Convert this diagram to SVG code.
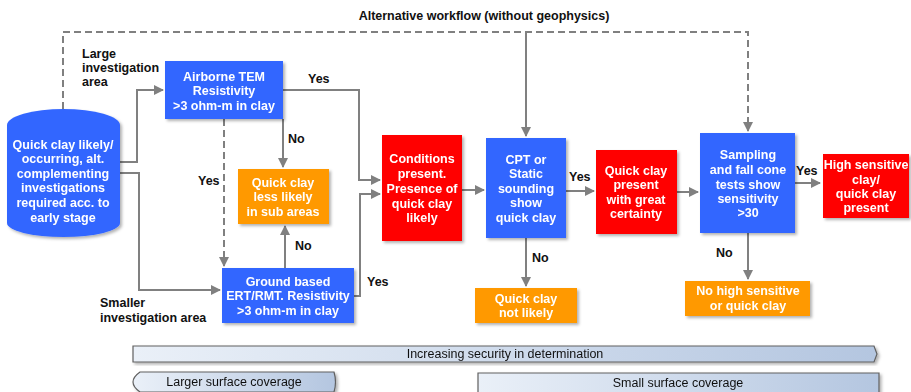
<svg xmlns="http://www.w3.org/2000/svg" width="911" height="392" viewBox="0 0 911 392">
<defs>
<style>
.t{font-family:"Liberation Sans",Arial,sans-serif;font-size:12.5px;font-weight:bold;text-anchor:middle;fill:#fff}
.l{font-family:"Liberation Sans",Arial,sans-serif;font-size:12.5px;font-weight:bold;fill:#111}
.b{font-family:"Liberation Sans",Arial,sans-serif;font-size:12.5px;fill:#111;text-anchor:middle}
.blue{fill:#3366ff}
.red{fill:#ff0000}
.org{fill:#ff9900}
.c{fill:none;stroke:#808080;stroke-width:2;marker-end:url(#ah)}
.d{fill:none;stroke:#808080;stroke-width:2;stroke-dasharray:7,4}
.bar{fill:url(#g);stroke:#606060;stroke-width:1.2}
</style>
<marker id="ah" viewBox="0 0 10 10" refX="9" refY="5" markerWidth="5" markerHeight="5" orient="auto" markerUnits="strokeWidth">
<path d="M0,0 L10,5 L0,10 z" fill="#808080"/>
</marker>
<linearGradient id="g" x1="0" y1="0" x2="1" y2="0">
<stop offset="0" stop-color="#eaf0f8"/>
<stop offset="1" stop-color="#b4c6e0"/>
</linearGradient>
<filter id="sh" x="-10%" y="-10%" width="130%" height="130%">
<feDropShadow dx="2" dy="2" stdDeviation="1.5" flood-color="#000" flood-opacity="0.3"/>
</filter>
</defs>
<rect width="911" height="392" fill="#fff"/>

<text class="l" x="484" y="20" text-anchor="middle">Alternative workflow (without geophysics)</text>
<text class="l" x="82" y="58">Large</text>
<text class="l" x="82" y="72">investigation</text>
<text class="l" x="82" y="86">area</text>
<text class="l" x="100" y="307">Smaller</text>
<text class="l" x="100" y="322">investigation area</text>

<g id="connectors">
<path class="d" d="M63,109 V32 H748 V124"/>
<path class="c" d="M526,32 V136"/>
<path class="c" d="M748,120 V131"/>
<path class="c" d="M120,162 H137 V90 H163"/>
<path class="c" d="M120,173 H139 V290 H220"/>
<path class="d" d="M224,119 V258"/>
<path class="c" d="M224,255 V266"/>
<path class="c" d="M283,119 V167"/>
<path class="c" d="M285,268 V226"/>
<path class="c" d="M283,90 H359 V180 H380"/>
<path class="c" d="M354,296 H360 V194 H380"/>
<path class="c" d="M462,190 H484"/>
<path class="c" d="M566,191 H594"/>
<path class="c" d="M677,192 H698"/>
<path class="c" d="M795,183 H820"/>
<path class="c" d="M526,238 V286"/>
<path class="c" d="M748,233 V279"/>
<text class="l" x="308" y="83">Yes</text>
<text class="l" x="288" y="143">No</text>
<text class="l" x="198" y="185">Yes</text>
<text class="l" x="295" y="250">No</text>
<text class="l" x="367" y="286">Yes</text>
<text class="l" x="569" y="181">Yes</text>
<text class="l" x="532" y="262">No</text>
<text class="l" x="716" y="257">No</text>
<text class="l" x="796" y="175">Yes</text>
</g>

<g id="start" filter="url(#sh)">
<path class="blue" d="M7,125 A56.5,16 0 0 1 120,125 V223 A56.5,14 0 0 1 7,223 Z"/>
<text class="t" x="63" y="149">Quick clay likely/</text>
<text class="t" x="63" y="163">occurring, alt.</text>
<text class="t" x="63" y="178">complementing</text>
<text class="t" x="63" y="192">investigations</text>
<text class="t" x="63" y="207">required acc. to</text>
<text class="t" x="63" y="222">early stage</text>
</g>

<g id="airborne" filter="url(#sh)">
<rect class="blue" x="165" y="61" width="118" height="58"/>
<text class="t" x="224" y="81">Airborne TEM</text>
<text class="t" x="224" y="95">Resistivity</text>
<text class="t" x="224" y="110">&gt;3 ohm-m in clay</text>
</g>

<g id="less-likely" filter="url(#sh)">
<rect class="org" x="238" y="169" width="91" height="55"/>
<text class="t" x="283" y="187">Quick clay</text>
<text class="t" x="283" y="201">less likely</text>
<text class="t" x="283" y="216">in sub areas</text>
</g>

<g id="ground" filter="url(#sh)">
<rect class="blue" x="222" y="268" width="132" height="55"/>
<text class="t" x="288" y="286">Ground based</text>
<text class="t" x="288" y="300">ERT/RMT. Resistivity</text>
<text class="t" x="288" y="315">&gt;3 ohm-m in clay</text>
</g>

<g id="conditions" filter="url(#sh)">
<rect class="red" x="382" y="135" width="80" height="106"/>
<text class="t" x="422" y="163">Conditions</text>
<text class="t" x="422" y="178">present.</text>
<text class="t" x="422" y="193">Presence of</text>
<text class="t" x="422" y="208">quick clay</text>
<text class="t" x="422" y="222">likely</text>
</g>

<g id="cpt" filter="url(#sh)">
<rect class="blue" x="486" y="138" width="80" height="100"/>
<text class="t" x="526" y="164">CPT or</text>
<text class="t" x="526" y="178">Static</text>
<text class="t" x="526" y="193">sounding</text>
<text class="t" x="526" y="207">show</text>
<text class="t" x="526" y="222">quick clay</text>
</g>

<g id="not-likely" filter="url(#sh)">
<rect class="org" x="475" y="288" width="102" height="35"/>
<text class="t" x="526" y="303">Quick clay</text>
<text class="t" x="526" y="317">not likely</text>
</g>

<g id="present" filter="url(#sh)">
<rect class="red" x="596" y="150" width="81" height="84"/>
<text class="t" x="636" y="175">Quick clay</text>
<text class="t" x="636" y="189">present</text>
<text class="t" x="636" y="204">with great</text>
<text class="t" x="636" y="218">certainty</text>
</g>

<g id="sampling" filter="url(#sh)">
<rect class="blue" x="700" y="133" width="95" height="100"/>
<text class="t" x="748" y="159">Sampling</text>
<text class="t" x="748" y="174">and fall cone</text>
<text class="t" x="748" y="189">tests show</text>
<text class="t" x="748" y="203">sensitivity</text>
<text class="t" x="748" y="217">&gt;30</text>
</g>

<g id="no-high" filter="url(#sh)">
<rect class="org" x="685" y="281" width="125" height="35"/>
<text class="t" x="748" y="295">No high sensitive</text>
<text class="t" x="748" y="310">or quick clay</text>
</g>

<g id="high" filter="url(#sh)">
<rect class="red" x="823" y="154" width="86" height="64"/>
<text class="t" x="866" y="169">High sensitive</text>
<text class="t" x="866" y="184">clay/</text>
<text class="t" x="866" y="198">quick clay</text>
<text class="t" x="866" y="212">present</text>
</g>

<g id="security" filter="url(#sh)">
<path class="bar" d="M133,346 H874 L877,354 L874,362 H133 Z"/>
<text class="b" x="505" y="358">Increasing security in determination</text>
</g>
<g id="larger" filter="url(#sh)">
<path class="bar" d="M140,372 H334 Q337,382 334,392 H140 Q133,387 133,382 Q133,377 140,372 Z"/>
<text class="b" x="234" y="386">Larger surface coverage</text>
</g>
<g id="small" filter="url(#sh)">
<path class="bar" d="M478,373 H879 V396 H478 Z"/>
<text class="b" x="678" y="387">Small surface coverage</text>
</g>
</svg>
